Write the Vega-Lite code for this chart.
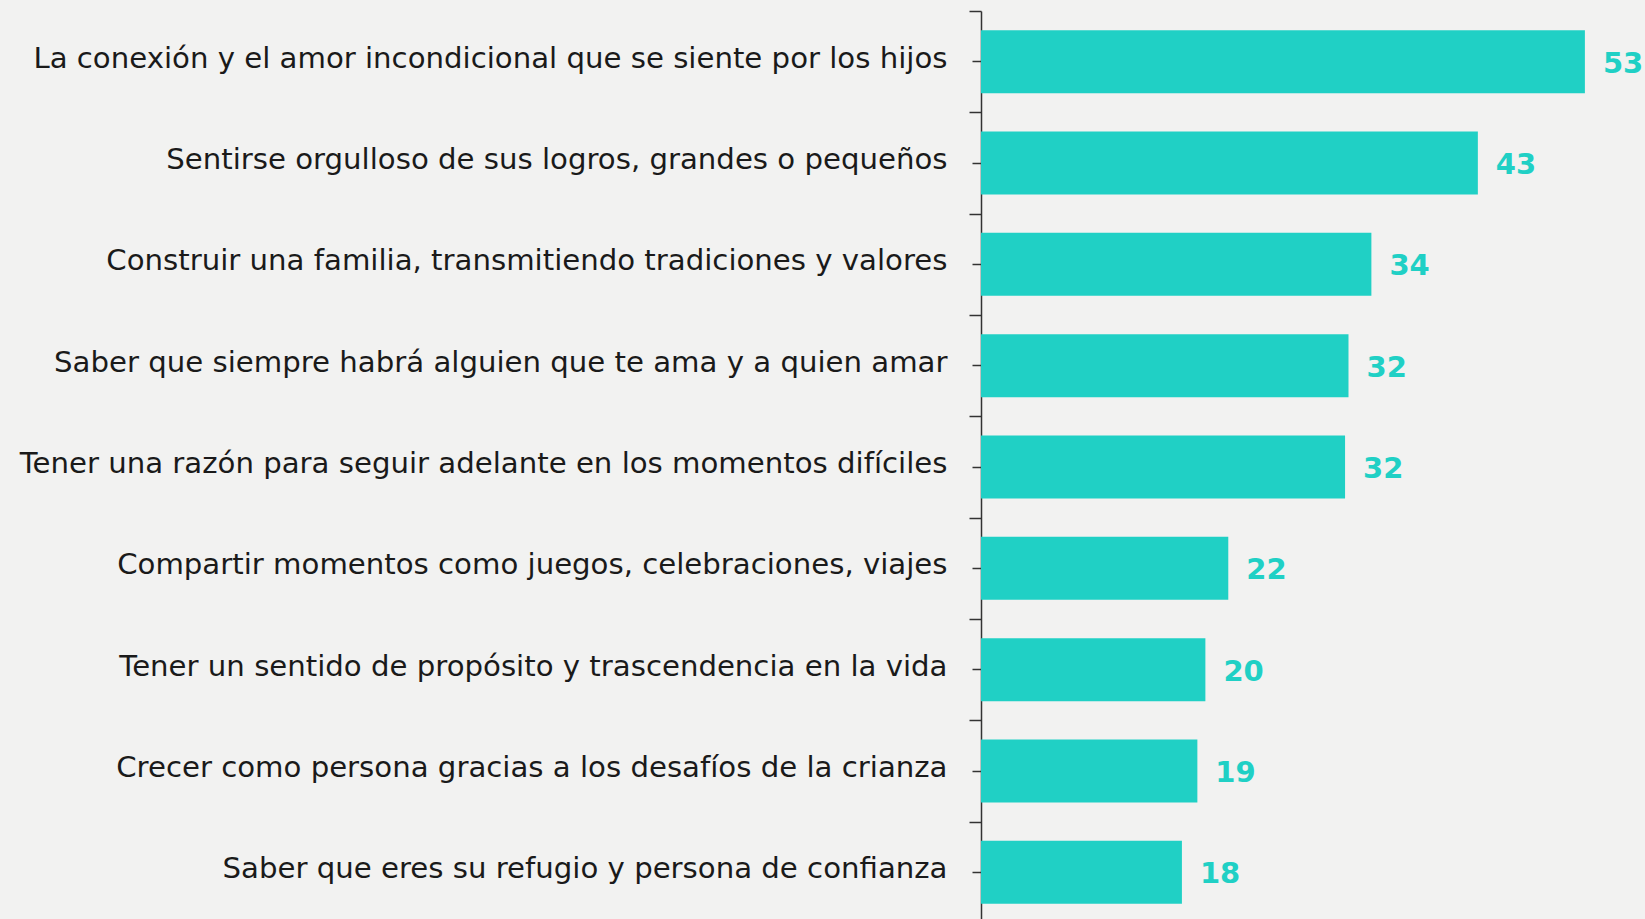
{
  "$schema": "https://vega.github.io/schema/vega-lite/v6.json",
  "autosize": {"type": "none"},
  "padding": {"left": 981, "top": 11, "right": 0, "bottom": 0},
  "width": 664,
  "height": 912,
  "background": "#F2F2F1",
  "config": {"view": {"stroke": null}},
  "data": {
    "values": [
      {"item": "La conexión y el amor incondicional que se siente por los hijos", "pct": 52.75, "label": 53},
      {"item": "Sentirse orgulloso de sus logros, grandes o pequeños", "pct": 43.4, "label": 43},
      {"item": "Construir una familia, transmitiendo tradiciones y valores", "pct": 34.1, "label": 34},
      {"item": "Saber que siempre habrá alguien que te ama y a quien amar", "pct": 32.1, "label": 32},
      {"item": "Tener una razón para seguir adelante en los momentos difíciles", "pct": 31.8, "label": 32},
      {"item": "Compartir momentos como juegos, celebraciones, viajes", "pct": 21.6, "label": 22},
      {"item": "Tener un sentido de propósito y trascendencia en la vida", "pct": 19.6, "label": 20},
      {"item": "Crecer como persona gracias a los desafíos de la crianza", "pct": 18.9, "label": 19},
      {"item": "Saber que eres su refugio y persona de confianza", "pct": 17.55, "label": 18}
    ]
  },
  "resolve": {"axis": {"y": "independent"}},
  "layer": [
    {
      "mark": {"type": "bar", "color": "#20D0C5"},
      "encoding": {
        "y": {
          "field": "item", "type": "nominal", "sort": null,
          "scale": {"paddingInner": 0.379, "paddingOuter": 0.1895},
          "axis": {
            "title": null, "orient": "left",
            "labelFont": "DejaVu Sans", "labelFontSize": 29.2, "labelColor": "#1a1a1a",
            "labelLimit": 1000, "labelPadding": 25, "labelOffset": -3,
            "tickSize": 9, "tickColor": "#333333", "tickWidth": 1.5,
            "domainColor": "#333333", "domainWidth": 1.5
          }
        },
        "x": {
          "field": "pct", "type": "quantitative",
          "scale": {"domain": [0, 58], "nice": false, "zero": true},
          "axis": null
        }
      }
    },
    {
      "mark": {"type": "text", "align": "left", "baseline": "middle", "dx": 18, "dy": 2, "font": "DejaVu Sans", "fontSize": 29, "fontWeight": "bold", "color": "#20D0C5"},
      "encoding": {
        "y": {
          "field": "item", "type": "nominal", "sort": null,
          "axis": {
            "title": null, "orient": "left", "labels": false, "domain": false,
            "tickOffset": -50.69, "tickSize": 12, "tickColor": "#333333", "tickWidth": 1.5
          }
        },
        "x": {"field": "pct", "type": "quantitative"},
        "text": {"field": "label", "type": "quantitative"}
      }
    }
  ]
}
